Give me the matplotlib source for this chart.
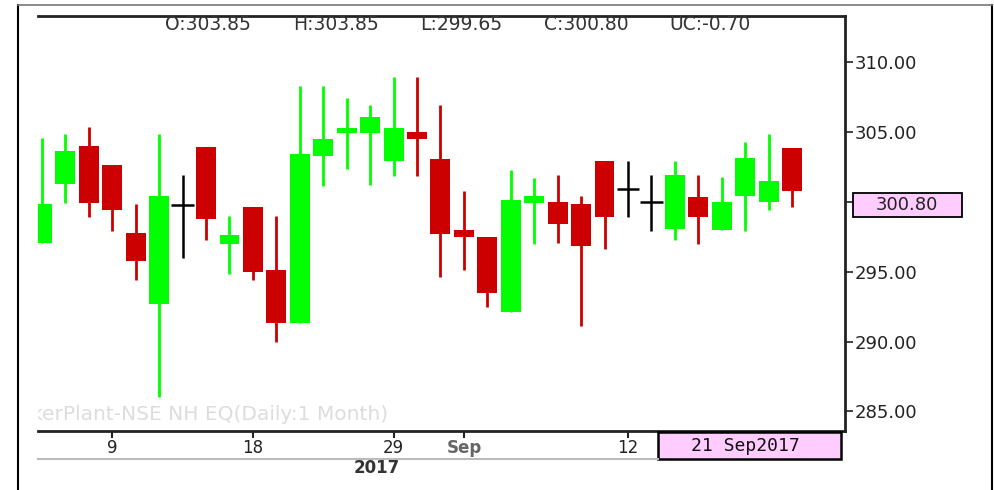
import matplotlib
matplotlib.use('Agg')
import matplotlib.pyplot as plt
from matplotlib.patches import Rectangle
import numpy as np

# daily candles, 4 Aug - 21 Sep 2017
dates = ['2017-08-04', '2017-08-07', '2017-08-08', '2017-08-09', '2017-08-10',
         '2017-08-11', '2017-08-14', '2017-08-16', '2017-08-17', '2017-08-18',
         '2017-08-21', '2017-08-22', '2017-08-23', '2017-08-24', '2017-08-28',
         '2017-08-29', '2017-08-30', '2017-08-31', '2017-09-01', '2017-09-04',
         '2017-09-05', '2017-09-06', '2017-09-07', '2017-09-08', '2017-09-11',
         '2017-09-12', '2017-09-13', '2017-09-14', '2017-09-15', '2017-09-18',
         '2017-09-19', '2017-09-20', '2017-09-21']
opens = [297.05, 301.25, 304.00, 302.65, 297.80, 292.70, 299.80, 303.90, 296.95, 299.60,
         295.10, 291.35, 303.30, 304.95, 304.95, 302.95, 305.00, 303.05, 298.00, 297.45,
         292.10, 299.90, 300.00, 299.85, 302.90, 300.95, 300.00, 298.05, 300.35, 297.95,
         300.40, 300.00, 303.85]
highs = [304.60, 304.85, 305.35, 302.65, 299.85, 304.85, 301.95, 303.90, 299.00, 299.60,
         299.00, 308.30, 308.30, 307.45, 306.95, 308.90, 308.90, 306.95, 300.75, 297.45,
         302.30, 301.70, 301.95, 300.45, 302.90, 302.90, 301.95, 302.90, 301.95, 301.80,
         304.25, 304.85, 303.85]
lows = [297.05, 299.90, 298.90, 297.90, 294.40, 286.00, 296.00, 297.30, 294.85, 294.40,
        290.00, 291.35, 301.10, 302.35, 301.20, 301.85, 301.85, 294.60, 295.15, 292.45,
        292.10, 297.00, 297.05, 291.10, 296.60, 298.90, 297.90, 297.30, 296.95, 297.95,
        297.90, 299.45, 299.65]
closes = [299.85, 303.65, 299.90, 299.45, 295.75, 300.45, 299.80, 298.80, 297.65, 294.95,
          291.35, 303.40, 304.50, 305.25, 306.10, 305.25, 304.50, 297.70, 297.45, 293.45,
          300.10, 300.45, 298.45, 296.85, 298.90, 300.95, 300.00, 301.95, 298.90, 300.00,
          303.15, 301.50, 300.80]

tick_dates = ['2017-08-09', '2017-08-18', '2017-08-29', '2017-09-01', '2017-09-12']
tick_labels = ['9', '18', '29', 'Sep', '12']
y_ticks = [285, 290, 295, 300, 305, 310]

UP = '#00ff00'
DOWN = '#cc0000'
W, H = 995, 490

fig = plt.figure(figsize=(W / 100, H / 100), dpi=100)
fig.patch.set_facecolor('white')

# pixel coords -> figure fraction
def fx(px):
    return px / W

def fy(py):
    return 1 - py / H

# outer frame
fig.add_artist(plt.Line2D([fx(18), fx(18)], [fy(5), 0], color='black', lw=1.5))
fig.add_artist(plt.Line2D([fx(992), fx(992)], [fy(5), 0], color='black', lw=1.5))
fig.add_artist(plt.Line2D([fx(18), fx(992)], [fy(5), fy(5)], color='#777777', lw=1.2))

ax = fig.add_axes([fx(38), fy(431), fx(845) - fx(38), fy(16) - fy(431)])
ax.set_xlim(-0.17, 34.26)
ax.set_ylim(283.6, 313.3)

x = np.arange(len(dates))
o = np.array(opens)
c = np.array(closes)
h = np.array(highs)
l = np.array(lows)

for i in range(len(x)):
    if o[i] == c[i]:
        # doji drawn as a black cross
        ax.vlines(x[i], l[i], h[i], color='black', lw=1.8, zorder=2)
        ax.hlines(c[i], x[i] - 0.48, x[i] + 0.48, color='black', lw=1.8, zorder=2)
        continue
    col = UP if c[i] > o[i] else DOWN
    ax.vlines(x[i], l[i], h[i], color=col, lw=2, zorder=2)
    ax.bar(x[i], abs(c[i] - o[i]), bottom=min(o[i], c[i]), width=0.85,
           color=col, edgecolor='none', zorder=3)

ax.spines['left'].set_visible(False)
for s in ['top', 'bottom', 'right']:
    ax.spines[s].set_linewidth(2)
    ax.spines[s].set_color('#222222')

# y axis on the right; the 300 label sits under the last-price box
ax.yaxis.tick_right()
ax.set_yticks(y_ticks)
ax.set_yticklabels(['' if v == 300 else '%.2f' % v for v in y_ticks])
ax.tick_params(axis='y', direction='out', length=6, width=1.2, pad=1,
               labelsize=13, labelcolor='#222222', colors='#222222')

tick_pos = [dates.index(d) for d in tick_dates]
ax.set_xticks(tick_pos)
ax.set_xticklabels(tick_labels)
ax.tick_params(axis='x', direction='out', length=5, width=1.5, pad=1,
               labelsize=12, labelcolor='#222222', colors='#222222')
for lab in ax.get_xticklabels():
    if lab.get_text() == 'Sep':
        lab.set_color('#666666')
        lab.set_fontweight('bold')

# header with last candle OHLC
uc = closes[-1] - closes[-2]
header = ['O:%.2f' % opens[-1], 'H:%.2f' % highs[-1], 'L:%.2f' % lows[-1],
          'C:%.2f' % closes[-1], 'UC:%.2f' % uc]
header_x = [208, 336, 461, 586, 710]
for txt, px in zip(header, header_x):
    fig.text(fx(px), fy(24), txt, ha='center', va='center', fontsize=13.5,
             color='#333333')

# watermark (clipped at the left edge)
ax.text(-0.45, 284.75, 'kerPlant-NSE NH EQ(Daily:1 Month)', fontsize=14.5,
        color='#dddddd', ha='left', va='center', clip_on=True, zorder=1)

# last price box on the y axis
fig.add_artist(Rectangle((fx(853), fy(217)), fx(962) - fx(853), fy(193) - fy(217),
                         transform=fig.transFigure, fc='#ffccff', ec='black', lw=1.3))
fig.text(fx(907), fy(205), '%.2f' % closes[-1], ha='center', va='center',
         fontsize=13, color='#222222')

# line under date labels and year
fig.add_artist(plt.Line2D([fx(38), fx(658)], [fy(459), fy(459)], color='#bbbbbb', lw=1.5))
fig.text(fx(377), fy(468), '2017', ha='center', va='center', fontsize=12,
         fontweight='bold', color='#333333')

# current date box
fig.add_artist(Rectangle((fx(658), fy(459)), fx(841) - fx(658), fy(432) - fy(459),
                         transform=fig.transFigure, fc='#ffccff', ec='black', lw=1.8))
fig.text(fx(745), fy(446), '21 Sep2017', ha='center', va='center', fontsize=13,
         family='DejaVu Sans Mono', color='#111111')

fig.savefig('out.png', dpi=100)
